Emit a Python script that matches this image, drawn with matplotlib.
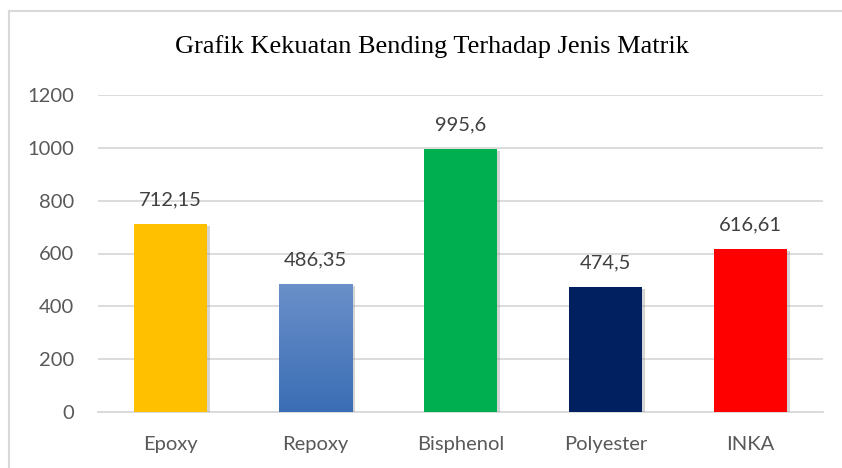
import matplotlib
matplotlib.use("Agg")
import matplotlib.pyplot as plt
import numpy as np
from matplotlib.lines import Line2D
from matplotlib.colors import LinearSegmentedColormap
import matplotlib.patheffects as pe

categories = ["Epoxy", "Repoxy", "Bisphenol", "Polyester", "INKA"]
values = [712.15, 486.35, 995.6, 474.5, 616.61]
labels = ["712,15", "486,35", "995,6", "474,5", "616,61"]
colors = ["#FFC000", "#4A7CC0", "#00B050", "#002060", "#FF0000"]
yticks = [0, 200, 400, 600, 800, 1000, 1200]
title = "Grafik Kekuatan Bending Terhadap Jenis Matrik"

fig = plt.figure(figsize=(8.42, 4.68), dpi=100)
fig.patch.set_facecolor("white")

# outer chart border (top and left edges only visible)
top_y = 1 - 11/468
left_x = 9/842
fig.add_artist(Line2D([left_x, 1.0], [top_y, top_y], transform=fig.transFigure,
                      color="#D9D9D9", linewidth=1.5))
fig.add_artist(Line2D([left_x, left_x], [0, top_y], transform=fig.transFigure,
                      color="#D9D9D9", linewidth=1.5))

ax = fig.add_axes([98/842, 56/468, 725/842, 317/468])
x = np.arange(len(categories))
bars = ax.bar(x, values, width=0.51, color=colors, zorder=3,
              path_effects=[pe.SimplePatchShadow(offset=(1.5, -1.5), shadow_rgbFace="#888888", alpha=0.35), pe.Normal()])

# gradient on Repoxy bar
b = bars[1]
grad = np.linspace(0, 1, 256).reshape(-1, 1)
cmap = LinearSegmentedColormap.from_list("g", ["#3A6DB5", "#6B90C9"])
im = ax.imshow(grad, cmap=cmap, origin="lower", aspect="auto",
               extent=[b.get_x(), b.get_x() + b.get_width(), 0, b.get_height()], zorder=3.5)
im.set_clip_path(b)

for xi, v, lab in zip(x, values, labels):
    ax.annotate(lab, (xi, v), xytext=(0, 11), textcoords="offset points", ha="center", va="bottom",
                fontsize=14.5, color="#404040", family="Lato")

ax.set_xlim(-0.5, len(categories) - 0.5)
ax.set_ylim(0, 1200)
ax.set_yticks(yticks)
ax.set_yticklabels([str(t) for t in yticks])
ax.set_xticks(x)
ax.set_xticklabels(categories)
ax.grid(axis="y", color="#D9D9D9", linewidth=1.3, zorder=0)
ax.set_axisbelow(True)
for s in ["top", "right", "left"]:
    ax.spines[s].set_visible(False)
ax.spines["bottom"].set_color("#D9D9D9")
ax.spines["bottom"].set_linewidth(1.3)
ax.tick_params(axis="both", length=0, labelsize=14.5, labelcolor="#595959")
ax.tick_params(axis="y", pad=17)
ax.tick_params(axis="x", pad=17)
for t in ax.get_xticklabels() + ax.get_yticklabels():
    t.set_family("Lato")

fig.text(432/842, 1 - 47/468, title, ha="center", va="center", fontsize=19,
         family="Liberation Serif", color="black")

fig.savefig("out.png", dpi=100)
